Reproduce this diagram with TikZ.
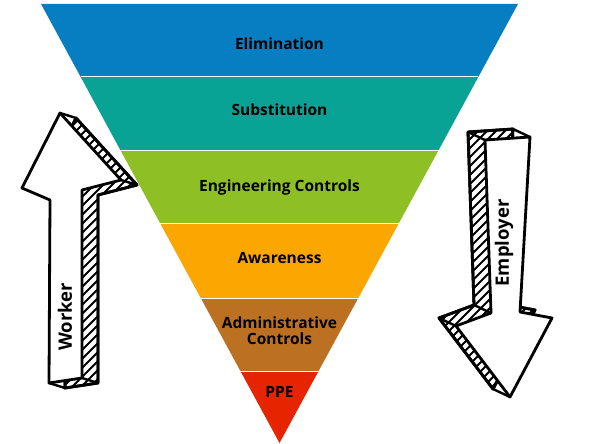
\documentclass[tikz,border=0pt]{standalone}
\usepackage{fontspec}
\setmainfont{Open Sans}
\usetikzlibrary{calc}
\definecolor{elimc}{RGB}{8,126,194}
\definecolor{substc}{RGB}{9,163,150}
\definecolor{engc}{RGB}{142,192,38}
\definecolor{awarec}{RGB}{252,166,2}
\definecolor{adminc}{RGB}{188,112,34}
\definecolor{ppec}{RGB}{230,36,0}
\tikzset{
  band/.style={draw=white, line width=1pt},
  label/.style={font=\bfseries\fontsize{15.5}{17}\selectfont, text=black, align=center, inner sep=0pt},
  sidelabel/.style={font=\bfseries\fontsize{18.5}{20}\selectfont, text=black, inner sep=0pt, rotate=90},
  sketch/.style={draw=black, line width=2.8pt, line join=round, line cap=round, fill=white},
  hatch/.style={draw=black, line width=2pt, line cap=round},
  edge3d/.style={draw=black, line width=2.4pt, line cap=round}
}
\newcommand\workerpath{(60,113) -- (121,180) -- (82,190) -- (82,378) -- (49,383) -- (50,200) -- (22,188) -- cycle}
\newcommand\employerpath{(485,140) -- (530,137) -- (520,312) -- (552,318) -- (510,397) -- (456,326) -- (491,313) -- cycle}
\begin{document}
\begin{tikzpicture}[x=1pt,y=-1pt]
\useasboundingbox (0,0) rectangle (589,444);
% funnel bands
\fill[elimc]  (41,4) -- (518,4) -- (478.3,77) -- (80.7,77) -- cycle;
\fill[substc] (80.7,77) -- (478.3,77) -- (438.7,150) -- (120.3,150) -- cycle;
\fill[engc]   (120.3,150) -- (438.7,150) -- (399,223) -- (160,223) -- cycle;
\fill[awarec] (160,223) -- (399,223) -- (358.3,298) -- (200.7,298) -- cycle;
\fill[adminc] (200.7,298) -- (358.3,298) -- (318.6,371) -- (240.4,371) -- cycle;
\fill[ppec]   (240.4,371) -- (318.6,371) -- (279.5,443) -- cycle;
\draw[band] (80.7,77) -- (478.3,77);
\draw[band] (120.3,150) -- (438.7,150);
\draw[band] (160,223) -- (399,223);
\draw[band] (200.7,298) -- (358.3,298);
\draw[band] (240.4,371) -- (318.6,371);
\node[label] (elim)  at (279.5,44)  {Elimination};
\node[label] (subst) at (279.5,110) {Substitution};
\node[label] (eng)   at (279.5,187) {Engineering Controls};
\node[label] (aware) at (279.5,258) {Awareness};
\node[label] (admin) at (279.5,331) {Administrative\\[-1pt]Controls};
\node[label] (ppe)   at (279.5,392) {PPE};
% worker arrow (up)
\draw[sketch, shift={(16,5)}] \workerpath;
\begin{scope}
  \clip[shift={(16,5)}] \workerpath;
  \foreach \i in {-320,-311,...,160} \draw[hatch] (\i,410) -- ++(310,-310);
\end{scope}
\draw[sketch, fill=none, shift={(16,5)}] \workerpath;
\foreach \p in {(60,113),(121,180),(82,378),(49,383),(22,188)} \draw[edge3d] \p -- ++(16,5);
\draw[sketch] \workerpath;
\node[sidelabel] (worker) at (65,317) {Worker};
% employer arrow (down)
\draw[sketch, shift={(-17,-8)}] \employerpath;
\begin{scope}
  \clip[shift={(-17,-8)}] \employerpath;
  \foreach \i in {100,109,...,580} \draw[hatch] (\i,410) -- ++(300,-300);
\end{scope}
\draw[sketch, fill=none, shift={(-17,-8)}] \employerpath;
\foreach \p in {(485,140),(530,137),(510,397),(456,326),(491,313)} \draw[edge3d] \p -- ++(-17,-8);
\draw[sketch] \employerpath;
\node[sidelabel] (employer) at (504,243) {Employer};
\end{tikzpicture}
\end{document}
